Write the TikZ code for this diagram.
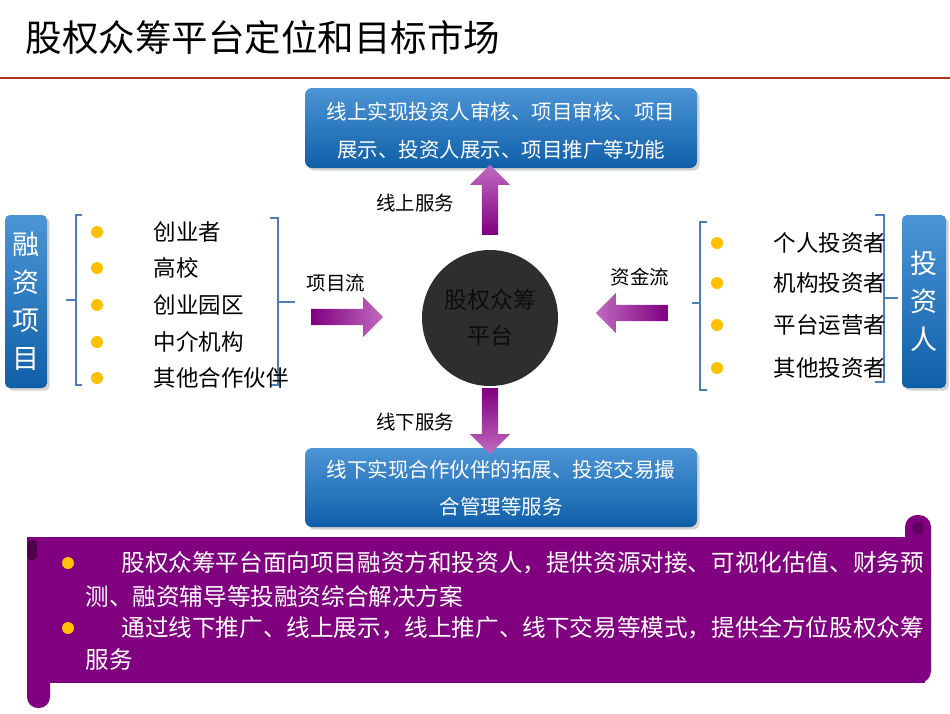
\documentclass[tikz,border=0pt]{standalone}
\usepackage{fontspec}
\setmainfont{Noto Sans CJK SC}
\usetikzlibrary{shapes.arrows,shadows}
\definecolor{bluebox}{HTML}{1F7ACB}
\definecolor{bluedark}{HTML}{0F5FA8}
\definecolor{purp}{HTML}{800080}
\definecolor{arrowp}{HTML}{A52AA5}
\definecolor{redline}{HTML}{B5301E}
\definecolor{brack}{HTML}{4F7DB5}
\definecolor{dotc}{HTML}{FFC000}
\begin{document}
\begin{tikzpicture}[x=1pt,y=-1pt,
  bbox/.style={rounded corners=7pt,top color=bluebox!80!white,bottom color=bluedark,draw=none,drop shadow={opacity=0.35}},
  wtext/.style={text=white,font=\fontsize{20.5}{24}\selectfont},
  btext/.style={font=\fontsize{22.5}{26}\selectfont,anchor=west},
  ltext/.style={font=\fontsize{19.5}{23}\selectfont},
  parrow/.style={single arrow,draw=none,left color=purp,right color=arrowp!70!white,minimum height=70pt,minimum width=40pt,single arrow head extend=6pt,inner sep=4pt},
  dot/.style={circle,fill=dotc,inner sep=0pt,minimum size=12pt},
  brk/.style={draw=brack,line width=2.2pt},
  stext/.style={text=white,font=\fontsize{23.6}{27}\selectfont,anchor=west}]
\useasboundingbox (0,0) rectangle (950,713);
\node[anchor=west,font=\fontsize{36.5}{40}\selectfont] (title) at (22,38) {股权众筹平台定位和目标市场};
\draw[redline,line width=2.5pt] (0,78) -- (950,78);
% top box
\path[bbox] (305,88) rectangle (697,168);
\node[wtext] (top1) at (501,112) {线上实现投资人审核、项目审核、项目};
\node[wtext] (top2) at (501,150) {展示、投资人展示、项目推广等功能};
% bottom box
\path[bbox] (305,448) rectangle (697,527);
\node[wtext] (bot1) at (501,470) {线下实现合作伙伴的拓展、投资交易撮};
\node[wtext] (bot2) at (501,507) {合管理等服务};
% circle
\node[circle,fill=black!82,minimum size=136pt,inner sep=0pt,font=\fontsize{23}{36}\selectfont,align=center,text=black!95] (c) at (490,318) {股权众筹\\平台};
% arrows
\node[parrow,shape border rotate=90,top color=arrowp!70!white,bottom color=purp] (au) at (490,204) {};
\node[parrow,shape border rotate=270,minimum height=66pt,bottom color=arrowp!70!white,top color=purp] (ad) at (490,417) {};
\node[parrow,minimum height=72pt] (ar) at (343,317) {};
\node[parrow,shape border rotate=180,minimum height=72pt,right color=purp,left color=arrowp!70!white] (al) at (636,313) {};
\node[ltext] (lu) at (415,203) {线上服务};
\node[ltext] (ld) at (415,422) {线下服务};
\node[ltext] (lr) at (336,283) {项目流};
\node[ltext] (ll) at (640,277) {资金流};
% side boxes
\path[bbox,rounded corners=5pt] (5,215) rectangle (47,388);
\node[text=white,font=\fontsize{27}{38}\selectfont,align=center] (lb) at (26,301) {融\\资\\项\\目};
\path[bbox,rounded corners=5pt] (902,215) rectangle (946,388);
\node[text=white,font=\fontsize{27}{38}\selectfont,align=center] (rb) at (924,301) {投\\资\\人};
% left brackets
\draw[brk] (82,215) -- (76,215) -- (76,385) -- (82,385);
\draw[brk] (76,300) -- (66,300);
\draw[brk] (270,218) -- (278,218) -- (278,385) -- (270,385);
\draw[brk] (278,302) -- (295,302);
\foreach \y/\t [count=\i] in {232/创业者,268/高校,305/创业园区,342/中介机构,378/其他合作伙伴}{
  \node[dot] (ld\i) at (97,\y) {};
  \node[btext] (lt\i) at (150,\y) {\t};
}
% right brackets
\draw[brk] (707,222) -- (700,222) -- (700,390) -- (707,390);
\draw[brk] (700,303) -- (692,303);
\draw[brk] (875,215) -- (884,215) -- (884,382) -- (875,382);
\draw[brk] (884,298) -- (898,298);
\foreach \y/\t [count=\i] in {243/个人投资者,283/机构投资者,325/平台运营者,368/其他投资者}{
  \node[dot] (rd\i) at (717,\y) {};
  \node[btext] (rt\i) at (770,\y) {\t};
}
% scroll
\fill[purp,rounded corners=12pt] (905,515) rectangle (931,683);
\fill[purp!75!black] (918,528) circle (6pt);
\fill[purp,rounded corners=11pt] (27,537) rectangle (50,708);
\fill[purp] (27,537) rectangle (925,683);
\fill[purp!60!black,rounded corners=4pt] (27,540) rectangle (37,560);
\node[dot] (sd1) at (68,563) {};
\node[dot] (sd2) at (68,628) {};
\node[stext] (s1) at (118,563) {股权众筹平台面向项目融资方和投资人，提供资源对接、可视化估值、财务预};
\node[stext] (s2) at (82,596) {测、融资辅导等投融资综合解决方案};
\node[stext] (s3) at (118,628) {通过线下推广、线上展示，线上推广、线下交易等模式，提供全方位股权众筹};
\node[stext] (s4) at (82,660) {服务};
\end{tikzpicture}
\end{document}
